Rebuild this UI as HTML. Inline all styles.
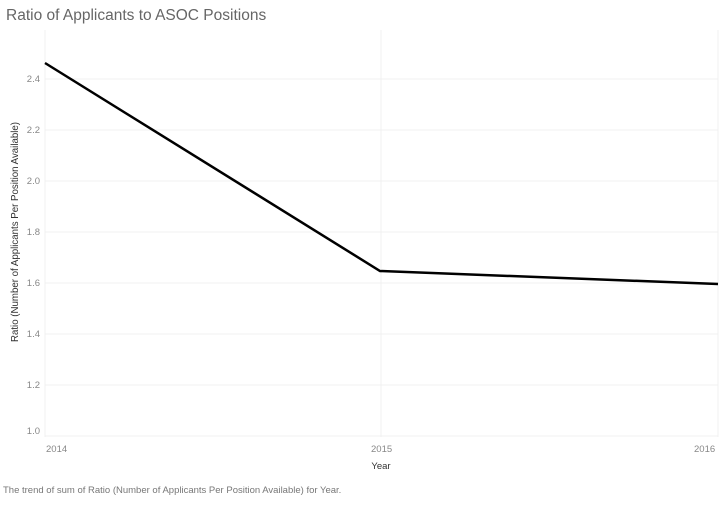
<!DOCTYPE html>
<html><head><style>
body{margin:0;background:#fff;width:720px;height:505px;overflow:hidden;font-family:"Liberation Sans",sans-serif}
</style></head><body>
<svg width="720" height="505" xmlns="http://www.w3.org/2000/svg" font-family="Liberation Sans, sans-serif">
<text x="6" y="20" font-size="15.5" fill="#666">Ratio of Applicants to ASOC Positions</text>
<g stroke="#f0f0f0" stroke-width="1">
<line x1="45" y1="30" x2="45" y2="437"/>
<line x1="381" y1="30" x2="381" y2="437"/>
<line x1="718" y1="30" x2="718" y2="437"/>
<line x1="45" y1="79" x2="718" y2="79"/>
<line x1="45" y1="130" x2="718" y2="130"/>
<line x1="45" y1="181" x2="718" y2="181"/>
<line x1="45" y1="232" x2="718" y2="232"/>
<line x1="45" y1="283" x2="718" y2="283"/>
<line x1="45" y1="334" x2="718" y2="334"/>
<line x1="45" y1="385" x2="718" y2="385"/>
<line x1="45" y1="436" x2="718" y2="436"/>
</g>
<g font-size="9.5" fill="#888" text-anchor="end">
<text x="40" y="82">2.4</text>
<text x="40" y="133">2.2</text>
<text x="40" y="184">2.0</text>
<text x="40" y="235">1.8</text>
<text x="40" y="286">1.6</text>
<text x="40" y="337">1.4</text>
<text x="40" y="388">1.2</text>
<text x="40" y="434">1.0</text>
</g>
<g font-size="9.5" fill="#888">
<text x="46" y="452">2014</text>
<text x="371" y="452">2015</text>
<text x="694" y="452">2016</text>
</g>
<text x="381" y="469" font-size="9.5" fill="#333" text-anchor="middle">Year</text>
<text transform="translate(18,232) rotate(-90)" font-size="9.7" fill="#333" text-anchor="middle">Ratio (Number of Applicants Per Position Available)</text>
<text x="3" y="493" font-size="9.5" fill="#777">The trend of sum of Ratio (Number of Applicants Per Position Available) for Year.</text>
<polyline points="45,63 380,271 718,284" fill="none" stroke="#000" stroke-width="2.5"/>
</svg>
</body></html>
